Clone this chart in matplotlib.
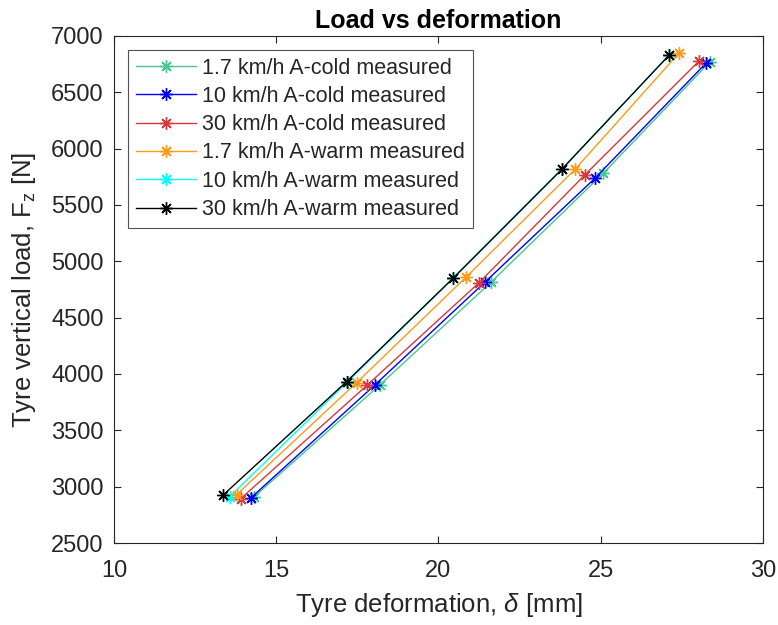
import matplotlib
matplotlib.use('Agg')
import matplotlib.pyplot as plt

plt.rcParams['font.family'] = ['Liberation Sans', 'DejaVu Sans']
plt.rcParams['mathtext.fontset'] = 'custom'
plt.rcParams['mathtext.rm'] = 'Liberation Sans'
plt.rcParams['mathtext.it'] = 'Liberation Sans:italic'

# deformation [mm] and vertical load [N] for each run
labels = ['1.7 km/h A-cold measured', '10 km/h A-cold measured', '30 km/h A-cold measured',
          '1.7 km/h A-warm measured', '10 km/h A-warm measured', '30 km/h A-warm measured']
colors = ['#44c98f', '#0000ff', '#d8383c', '#ff9a1a', '#00ffff', '#000000']

cold17_x = [14.3, 18.2, 21.62, 25.08, 28.37]
cold17_y = [2905, 3905, 4815, 5782, 6772]
cold10_x = [14.21, 18.04, 21.43, 24.82, 28.24]
cold10_y = [2898, 3903, 4815, 5737, 6758]
cold30_x = [13.9, 17.81, 21.25, 24.51, 28.04]
cold30_y = [2892, 3903, 4810, 5767, 6781]
warm17_x = [13.78, 17.48, 20.85, 24.21, 27.42]
warm17_y = [2930, 3924, 4860, 5817, 6852]
warm10_x = [13.57, 17.2, 20.45, 23.8, 27.11]
warm10_y = [2912, 3933, 4850, 5817, 6831]
warm30_x = [13.37, 17.17, 20.45, 23.8, 27.11]
warm30_y = [2927, 3933, 4850, 5817, 6831]

xs = [cold17_x, cold10_x, cold30_x, warm17_x, warm10_x, warm30_x]
ys = [cold17_y, cold10_y, cold30_y, warm17_y, warm10_y, warm30_y]
zs = [2, 2.1, 2.2, 2.4, 1.9, 2.5]  # cyan sits under the others

txt = '#262626'
fig = plt.figure(figsize=(7.78, 6.25), dpi=100)
ax = fig.add_axes([0.1465, 0.1312, 0.8342, 0.8112])

for x, y, c, lab, z in zip(xs, ys, colors, labels, zs):
    ax.plot(x, y, color=c, lw=1.0, marker=(8, 2, 0), markersize=9,
            markeredgewidth=1.0, label=lab, zorder=z)

ax.set_xlim(10, 30)
ax.set_ylim(2500, 7000)
ax.set_xticks([10, 15, 20, 25, 30])
ax.set_yticks(range(2500, 7001, 500))
ax.tick_params(direction='in', top=True, right=True, labelsize=17,
               colors=txt, length=5, width=0.8)
ax.tick_params(axis='x', pad=12)
ax.tick_params(axis='y', pad=7.5)
for s in ax.spines.values():
    s.set_color(txt)
    s.set_linewidth(0.8)

ax.set_xlabel(r'Tyre deformation, $\delta$ [mm]', fontsize=18.5, color=txt, labelpad=7)
ax.set_ylabel(r'Tyre vertical load, F$_\mathrm{z}$ [N]', fontsize=18.5, color=txt, labelpad=9)
ax.set_title('Load vs deformation', fontsize=18, fontweight='bold', pad=6)

leg = ax.legend(loc='upper left', bbox_to_anchor=(0.0216, 0.9724), fontsize=15.5,
                frameon=True, fancybox=False, edgecolor=txt, handlelength=2.8,
                handletextpad=0.3, borderpad=0.35, labelspacing=0.34, borderaxespad=0)
leg.get_frame().set_linewidth(0.8)
for t in leg.get_texts():
    t.set_color(txt)

fig.savefig('out.png', dpi=100)
